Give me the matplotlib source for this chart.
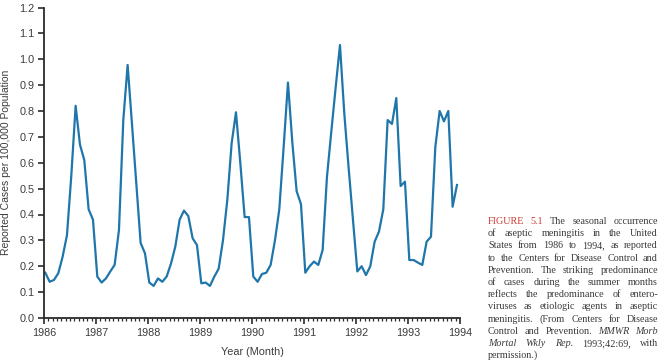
import matplotlib
matplotlib.use("Agg")
import matplotlib.pyplot as plt
from matplotlib.ticker import MultipleLocator, FormatStrFormatter
import numpy as np

# monthly reported cases per 100,000, Jan 1986 .. Dec 1993
cases_1986 = [0.175, 0.14, 0.147, 0.173, 0.237, 0.32, 0.55, 0.82, 0.67, 0.61, 0.42, 0.38]
cases_1987 = [0.16, 0.137, 0.153, 0.18, 0.205, 0.34, 0.765, 0.978, 0.75, 0.52, 0.29, 0.25]
cases_1988 = [0.137, 0.124, 0.153, 0.14, 0.16, 0.21, 0.276, 0.38, 0.415, 0.394, 0.308, 0.282]
cases_1989 = [0.134, 0.137, 0.124, 0.16, 0.19, 0.30, 0.456, 0.675, 0.795, 0.60, 0.39, 0.39]
cases_1990 = [0.16, 0.14, 0.17, 0.175, 0.205, 0.30, 0.42, 0.66, 0.91, 0.68, 0.49, 0.44]
cases_1991 = [0.175, 0.2, 0.218, 0.205, 0.263, 0.546, 0.72, 0.89, 1.055, 0.79, 0.58, 0.38]
cases_1992 = [0.18, 0.2, 0.166, 0.2, 0.295, 0.334, 0.42, 0.765, 0.75, 0.85, 0.51, 0.527]
cases_1993 = [0.224, 0.224, 0.214, 0.205, 0.295, 0.314, 0.66, 0.80, 0.76, 0.80, 0.43, 0.514]

years = list(range(1986, 1995))

caption = [
    [("FIGURE 5.1", "red"), ("The seasonal occurrence", "plain")],
    [("of aseptic meningitis in the United", "plain")],
    [("States from 1986 to 1994, as reported", "plain")],
    [("to the Centers for Disease Control and", "plain")],
    [("Prevention. The striking predominance", "plain")],
    [("of cases during the summer months", "plain")],
    [("reflects the predominance of entero-", "plain")],
    [("viruses as etiologic agents in aseptic", "plain")],
    [("meningitis. (From Centers for Disease", "plain")],
    [("Control and Prevention.", "plain"), ("MMWR Morb", "italic")],
    [("Mortal Wkly Rep.", "italic"), ("1993;42:69, with", "plain")],
    [("permission.)", "plain")],
]

cases = cases_1986 + cases_1987 + cases_1988 + cases_1989 + cases_1990 + cases_1991 + cases_1992 + cases_1993
x = 1986 + (np.arange(len(cases)) + 0.3) / 12

W, H = 663, 360
fig = plt.figure(figsize=(W / 100, H / 100), dpi=100)
ax = fig.add_axes([44 / W, 1 - 318 / H, 416 / W, 310.5 / H])

ax.plot(x, cases, color="#1f76aa", lw=1.6)

ax.set_xlim(1986, 1994)
ax.set_ylim(0, 1.2)
for s in ["top", "right"]:
    ax.spines[s].set_visible(False)
for s in ["left", "bottom"]:
    ax.spines[s].set_color("#2b2b2b")
    ax.spines[s].set_linewidth(1.3)

ax.set_xticks(years)
ax.xaxis.set_minor_locator(MultipleLocator(1 / 12))
ax.yaxis.set_major_locator(MultipleLocator(0.1))
ax.yaxis.set_major_formatter(FormatStrFormatter("%.1f"))
ax.tick_params(axis="both", which="major", direction="out", length=4, width=1.2,
               color="#2b2b2b", labelsize=7.8, labelcolor="#3c3c3c", pad=3)
ax.tick_params(axis="x", which="minor", direction="out", length=2.5, width=0.9, color="#2b2b2b")
for lab in ax.get_xticklabels() + ax.get_yticklabels():
    lab.set_family("Liberation Sans")

ax.set_xlabel("Year (Month)", family="Liberation Sans", fontsize=7.8, color="#3c3c3c", labelpad=7)
ax.set_ylabel("Reported Cases per 100,000 Population", family="Liberation Sans", fontsize=7.5,
              color="#3c3c3c", labelpad=6)

# justified caption block on the right
renderer = fig.canvas.get_renderer()
left, right = 488, 658
top, step = 224, 12.2
styles = {"red": dict(color="#cc3b33", style="normal"),
          "plain": dict(color="#3a3a3a", style="normal"),
          "italic": dict(color="#3a3a3a", style="italic")}
space = None
for i, line in enumerate(caption):
    words = []
    for seg, st in line:
        for w in seg.split():
            words.append((w, st))
    texts = []
    widths = []
    for w, st in words:
        t = fig.text(0, 0, w, family="Liberation Serif", fontsize=7.3, va="baseline", ha="left",
                     color=styles[st]["color"], style=styles[st]["style"])
        texts.append(t)
        widths.append(t.get_window_extent(renderer).width)
    if space is None:
        sp = fig.text(0, 0, "a a", family="Liberation Serif", fontsize=7.3)
        one = fig.text(0, 0, "aa", family="Liberation Serif", fontsize=7.3)
        space = sp.get_window_extent(renderer).width - one.get_window_extent(renderer).width
        sp.remove()
        one.remove()
    if i < len(caption) - 1 and len(words) > 1:
        gap = (right - left - sum(widths)) / (len(words) - 1)
    else:
        gap = space
    xp = left
    yp = 1 - (top + i * step) / H
    for t, wd in zip(texts, widths):
        t.set_position((xp / W, yp))
        xp += wd + gap

fig.savefig("out.png", dpi=100)
